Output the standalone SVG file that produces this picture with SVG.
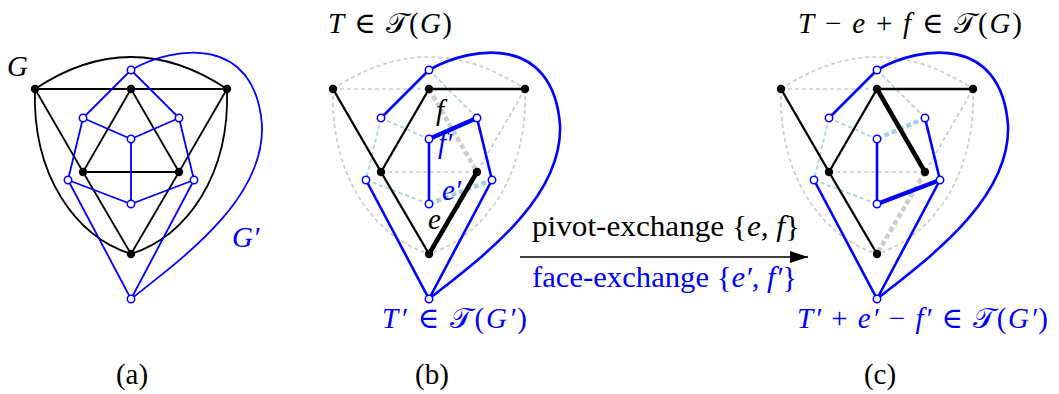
<svg xmlns="http://www.w3.org/2000/svg" width="1059" height="394" viewBox="0 0 1059 394">
<style>
.k{stroke:#000;stroke-width:1.8;fill:none}
.b{stroke:#0000ff;stroke-width:1.8;fill:none}
.kt{stroke:#000;stroke-width:2.3;fill:none}
.bt{stroke:#0000ff;stroke-width:2.6;fill:none}
.thk{stroke-width:4.5}
.gd{stroke:#cdcdcd;stroke-width:1.7;stroke-dasharray:4 3;fill:none}
.ld{stroke:#a2d3e0;stroke-width:1.7;stroke-dasharray:4 3;fill:none}
.td{stroke-width:4.5;stroke-dasharray:5 3}
.bn{fill:#000}
.wn{fill:#fff;stroke:#0000ff;stroke-width:1.5}
text{font-family:"Liberation Serif","DejaVu Serif",serif;font-size:29px;fill:#000}
.i{font-style:italic}
.blue{fill:#0000ff}
</style>
<defs>
<marker id="arr" viewBox="0 0 10 10" refX="10" refY="5" markerWidth="18" markerHeight="12" markerUnits="userSpaceOnUse" orient="auto" preserveAspectRatio="none">
<path d="M0,0 L10,5 L0,10 Z" fill="#000"/>
</marker>
</defs>

<!-- Panel (a) -->
<g id="panel-a">
<g id="a-connectors">
<path class="k" d="M35,89 L131,89"/>
<path class="k" d="M131,89 L227,89"/>
<path class="k" d="M35,89 Q131,25 227,89"/>
<path class="k" d="M35,89 C32,175 75,236 131,254"/>
<path class="k" d="M227,89 C230,175 187,236 131,254"/>
<path class="k" d="M35,89 L83,172"/>
<path class="k" d="M83,172 L131,254"/>
<path class="k" d="M227,89 L179,172"/>
<path class="k" d="M179,172 L131,254"/>
<path class="k" d="M131,89 L83,172"/>
<path class="k" d="M131,89 L179,172"/>
<path class="k" d="M83,172 L179,172"/>
<path class="b" d="M131,70 L83,118"/>
<path class="b" d="M131,70 L179,118"/>
<path class="b" d="M83,118 L131,139"/>
<path class="b" d="M179,118 L131,139"/>
<path class="b" d="M131,139 L131,204"/>
<path class="b" d="M83,118 L68,180"/>
<path class="b" d="M179,118 L194,180"/>
<path class="b" d="M68,180 L131,204"/>
<path class="b" d="M194,180 L131,204"/>
<path class="b" d="M68,180 L131,299"/>
<path class="b" d="M194,180 L131,299"/>
<path class="b" d="M131,70 C175,45 255,35 262,125 C265,200 180,260 131,299"/>
</g>
<g id="a-TL"><circle class="bn" cx="35" cy="89" r="4.2"/></g>
<g id="a-TM"><circle class="bn" cx="131" cy="89" r="4.2"/></g>
<g id="a-TR"><circle class="bn" cx="227" cy="89" r="4.2"/></g>
<g id="a-ML"><circle class="bn" cx="83" cy="172" r="4.2"/></g>
<g id="a-MR"><circle class="bn" cx="179" cy="172" r="4.2"/></g>
<g id="a-B"><circle class="bn" cx="131" cy="254" r="4.2"/></g>
<g id="a-d-top"><circle class="wn" cx="131" cy="70" r="3.7"/></g>
<g id="a-d-ul"><circle class="wn" cx="83" cy="118" r="3.7"/></g>
<g id="a-d-ur"><circle class="wn" cx="179" cy="118" r="3.7"/></g>
<g id="a-d-c"><circle class="wn" cx="131" cy="139" r="3.7"/></g>
<g id="a-d-l"><circle class="wn" cx="68" cy="180" r="3.7"/></g>
<g id="a-d-r"><circle class="wn" cx="194" cy="180" r="3.7"/></g>
<g id="a-d-lc"><circle class="wn" cx="131" cy="204" r="3.7"/></g>
<g id="a-d-bot"><circle class="wn" cx="131" cy="299" r="3.7"/></g>
</g>

<!-- Panel (b) -->
<g id="panel-b" transform="translate(298,0)">
<g id="b-connectors">
<path class="gd" d="M35,89 L131,89"/>
<path class="gd" d="M35,89 Q131,25 227,89"/>
<path class="gd" d="M35,89 C32,175 75,236 131,254"/>
<path class="gd" d="M227,89 C230,175 187,236 131,254"/>
<path class="gd" d="M227,89 L179,172"/>
<path class="gd" d="M83,172 L179,172"/>
<path class="gd td" d="M131,89 L179,172"/>
<path class="ld" d="M131,70 L179,118"/>
<path class="ld" d="M83,118 L131,139"/>
<path class="ld" d="M83,118 L68,180"/>
<path class="ld" d="M68,180 L131,204"/>
<path class="ld td" d="M131,204 L194,180"/>
<path class="kt" d="M35,89 L83,172"/>
<path class="kt" d="M83,172 L131,254"/>
<path class="kt" d="M131,89 L83,172"/>
<path class="kt" d="M131,89 L227,89"/>
<path class="kt thk" d="M179,172 L131,254"/>
<path class="bt" d="M131,70 L83,118"/>
<path class="bt" d="M131,70 C175,45 255,35 262,125 C265,200 180,260 131,299"/>
<path class="bt" d="M179,118 L194,180"/>
<path class="bt" d="M194,180 L131,299"/>
<path class="bt" d="M68,180 L131,299"/>
<path class="bt" d="M131,139 L131,204"/>
<path class="bt thk" d="M131,139 L179,118"/>
</g>
<g id="b-TL"><circle class="bn" cx="35" cy="89" r="4.2"/></g>
<g id="b-TM"><circle class="bn" cx="131" cy="89" r="4.2"/></g>
<g id="b-TR"><circle class="bn" cx="227" cy="89" r="4.2"/></g>
<g id="b-ML"><circle class="bn" cx="83" cy="172" r="4.2"/></g>
<g id="b-MR"><circle class="bn" cx="179" cy="172" r="4.2"/></g>
<g id="b-B"><circle class="bn" cx="131" cy="254" r="4.2"/></g>
<g id="b-d-top"><circle class="wn" cx="131" cy="70" r="3.7"/></g>
<g id="b-d-ul"><circle class="wn" cx="83" cy="118" r="3.7"/></g>
<g id="b-d-ur"><circle class="wn" cx="179" cy="118" r="3.7"/></g>
<g id="b-d-c"><circle class="wn" cx="131" cy="139" r="3.7"/></g>
<g id="b-d-l"><circle class="wn" cx="68" cy="180" r="3.7"/></g>
<g id="b-d-r"><circle class="wn" cx="194" cy="180" r="3.7"/></g>
<g id="b-d-lc"><circle class="wn" cx="131" cy="204" r="3.7"/></g>
<g id="b-d-bot"><circle class="wn" cx="131" cy="299" r="3.7"/></g>
</g>

<!-- Panel (c) -->
<g id="panel-c" transform="translate(746,0)">
<g id="c-connectors">
<path class="gd" d="M35,89 L131,89"/>
<path class="gd" d="M35,89 Q131,25 227,89"/>
<path class="gd" d="M35,89 C32,175 75,236 131,254"/>
<path class="gd" d="M227,89 C230,175 187,236 131,254"/>
<path class="gd" d="M227,89 L179,172"/>
<path class="gd" d="M83,172 L179,172"/>
<path class="gd td" d="M179,172 L131,254"/>
<path class="ld" d="M131,70 L179,118"/>
<path class="ld" d="M83,118 L131,139"/>
<path class="ld" d="M83,118 L68,180"/>
<path class="ld" d="M68,180 L131,204"/>
<path class="ld td" d="M131,139 L179,118"/>
<path class="kt" d="M35,89 L83,172"/>
<path class="kt" d="M83,172 L131,254"/>
<path class="kt" d="M131,89 L83,172"/>
<path class="kt" d="M131,89 L227,89"/>
<path class="kt thk" d="M131,89 L179,172"/>
<path class="bt" d="M131,70 L83,118"/>
<path class="bt" d="M131,70 C175,45 255,35 262,125 C265,200 180,260 131,299"/>
<path class="bt" d="M179,118 L194,180"/>
<path class="bt" d="M194,180 L131,299"/>
<path class="bt" d="M68,180 L131,299"/>
<path class="bt" d="M131,139 L131,204"/>
<path class="bt thk" d="M131,204 L194,180"/>
</g>
<g id="c-TL"><circle class="bn" cx="35" cy="89" r="4.2"/></g>
<g id="c-TM"><circle class="bn" cx="131" cy="89" r="4.2"/></g>
<g id="c-TR"><circle class="bn" cx="227" cy="89" r="4.2"/></g>
<g id="c-ML"><circle class="bn" cx="83" cy="172" r="4.2"/></g>
<g id="c-MR"><circle class="bn" cx="179" cy="172" r="4.2"/></g>
<g id="c-B"><circle class="bn" cx="131" cy="254" r="4.2"/></g>
<g id="c-d-top"><circle class="wn" cx="131" cy="70" r="3.7"/></g>
<g id="c-d-ul"><circle class="wn" cx="83" cy="118" r="3.7"/></g>
<g id="c-d-ur"><circle class="wn" cx="179" cy="118" r="3.7"/></g>
<g id="c-d-c"><circle class="wn" cx="131" cy="139" r="3.7"/></g>
<g id="c-d-l"><circle class="wn" cx="68" cy="180" r="3.7"/></g>
<g id="c-d-r"><circle class="wn" cx="194" cy="180" r="3.7"/></g>
<g id="c-d-lc"><circle class="wn" cx="131" cy="204" r="3.7"/></g>
<g id="c-d-bot"><circle class="wn" cx="131" cy="299" r="3.7"/></g>
</g>

<!-- Arrow -->
<g id="arrow-connector">
<path d="M520,257 L808,257" stroke="#000" stroke-width="1.3" fill="none" marker-end="url(#arr)"/>
</g>

<!-- Labels -->
<g id="labels">
<text x="7" y="76" class="i" font-size="31">G</text>
<text x="232" y="247" class="i blue" font-size="31">G′</text>
<text x="328" y="33" textLength="124" lengthAdjust="spacing" font-size="30"><tspan class="i">T</tspan> ∈ 𝒯(<tspan class="i">G</tspan>)</text>
<text x="798" y="33" textLength="224" lengthAdjust="spacing" font-size="30"><tspan class="i">T</tspan> − <tspan class="i">e</tspan> + <tspan class="i">f</tspan> ∈ 𝒯(<tspan class="i">G</tspan>)</text>
<text x="382" y="328" class="blue" textLength="145" lengthAdjust="spacing" font-size="30"><tspan class="i">T′</tspan> ∈ 𝒯(<tspan class="i">G′</tspan>)</text>
<text x="797" y="328" class="blue" textLength="251" lengthAdjust="spacing" font-size="30"><tspan class="i">T′</tspan> + <tspan class="i">e′</tspan> − <tspan class="i">f′</tspan> ∈ 𝒯(<tspan class="i">G′</tspan>)</text>
<text x="532" y="236" textLength="268" lengthAdjust="spacingAndGlyphs">pivot-exchange {<tspan class="i">e</tspan>, <tspan class="i">f</tspan>}</text>
<text x="532" y="287" class="blue" textLength="265" lengthAdjust="spacingAndGlyphs">face-exchange {<tspan class="i">e′</tspan>, <tspan class="i">f′</tspan>}</text>
<text x="436" y="120" class="i">f</text>
<text x="438" y="153" class="i blue">f′</text>
<text x="442" y="200" class="i blue">e′</text>
<text x="428" y="229" class="i">e</text>
<text x="132" y="384" text-anchor="middle">(a)</text>
<text x="432" y="384" text-anchor="middle">(b)</text>
<text x="880" y="384" text-anchor="middle">(c)</text>
</g>
</svg>
